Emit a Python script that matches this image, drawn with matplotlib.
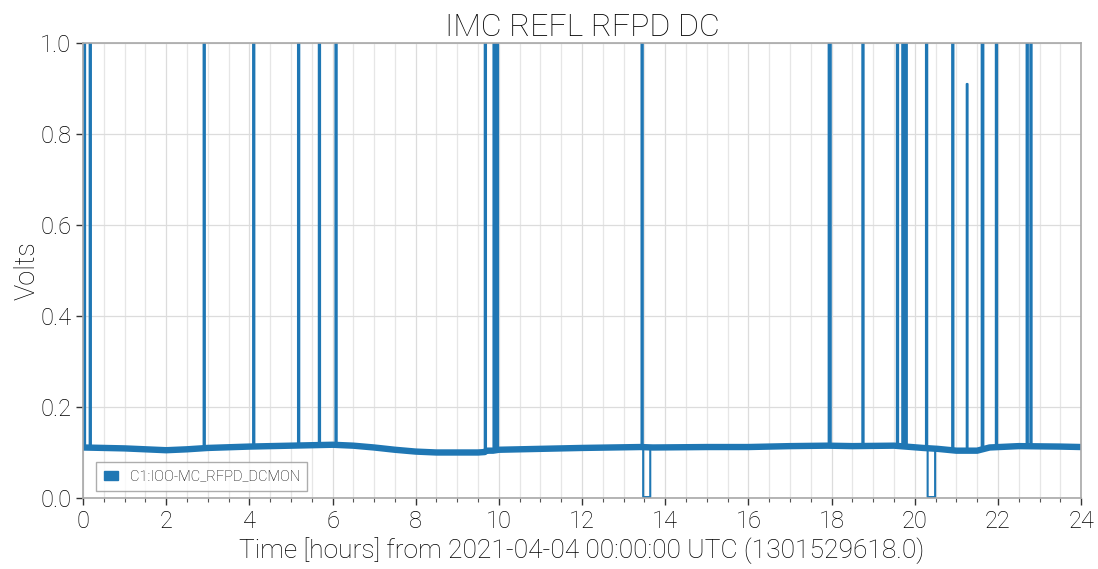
import numpy as np
import matplotlib
matplotlib.use('Agg')
import matplotlib.pyplot as plt
from matplotlib.patches import Patch

# slow baseline of the DC monitor (hours, volts)
base_hours = [0, 1, 1.5, 2, 2.5, 3, 4, 5, 6, 6.5, 7, 7.5, 8, 8.5, 9, 9.5, 9.66,
              9.7, 9.86, 10.0, 11, 12, 13.4, 13.7, 15, 16, 17, 17.9, 18.5,
              19.5, 20.2, 20.55, 21.0, 21.5, 21.8, 22.5, 23.5, 24]
base_volts = [0.111, 0.109, 0.107, 0.105, 0.107, 0.110, 0.113, 0.115, 0.117,
              0.115, 0.111, 0.106, 0.102, 0.100, 0.100, 0.100, 0.101,
              0.104, 0.104, 0.106, 0.108, 0.110, 0.112, 0.111, 0.112, 0.112,
              0.114, 0.115, 0.114, 0.115, 0.110, 0.108, 0.104, 0.104, 0.111,
              0.114, 0.113, 0.112]

# glitches: start hour, end hour, peak value (>1 means off scale)
spike_start = [0.02, 0.16, 2.90, 4.09, 5.17, 5.67, 6.07, 9.66, 9.87, 9.95,
               13.43, 17.93, 18.74, 19.57, 19.70, 19.77, 20.27, 20.90, 21.25,
               21.61, 21.95, 22.69, 22.78]
spike_end = [0.05, 0.19, 2.93, 4.12, 5.20, 5.70, 6.10, 9.69, 9.90, 9.98,
             13.46, 17.98, 18.77, 19.60, 19.74, 19.81, 20.30, 20.93, 21.27,
             21.65, 21.98, 22.72, 22.81]
spike_peak = [1.05, 1.05, 1.05, 1.05, 1.05, 1.05, 1.05, 1.05, 1.05, 1.05,
              1.05, 1.05, 1.05, 1.05, 1.05, 1.05, 1.05, 1.05, 0.91,
              1.05, 1.05, 1.05, 1.05]

# drop-outs to (almost) zero: start hour, end hour, level
dip_start = [13.47, 20.31]
dip_end = [13.64, 20.49]
dip_level = [0.002, 0.002]

channel = 'C1:IOO-MC_RFPD_DCMON'

plt.rcParams['font.family'] = ['Roboto', 'DejaVu Sans']
plt.rcParams['font.weight'] = 'light'

# assemble the trace
events = [(s, e, p) for s, e, p in zip(spike_start, spike_end, spike_peak)]
events += [(s, e, l) for s, e, l in zip(dip_start, dip_end, dip_level)]
events.sort()

t = [base_hours[0]]
v = [base_volts[0]]
for s, e, p in events:
    for bh, bv in zip(base_hours, base_volts):
        if t[-1] < bh < s:
            t.append(bh)
            v.append(bv)
    bs = np.interp(s, base_hours, base_volts)
    be = np.interp(e, base_hours, base_volts)
    t += [s, s, e, e]
    v += [bs, p, p, be]
for bh, bv in zip(base_hours, base_volts):
    if bh > t[-1]:
        t.append(bh)
        v.append(bv)

fig = plt.figure(figsize=(10.98, 5.69), dpi=100)
ax = fig.add_axes([0.0756, 0.1248, 0.909, 0.7996])

col = '#1f77b4'
ax.plot(base_hours, base_volts, color=col, linewidth=4.6, solid_capstyle='butt')
ax.plot(t, v, color=col, linewidth=1.5)

ax.set_xlim(0, 24)
ax.set_ylim(0, 1)
ax.set_xticks(np.arange(0, 25, 2))
ax.set_xticks(np.arange(0, 24.01, 0.5), minor=True)
ax.set_yticks(np.arange(0, 1.01, 0.2))
ax.set_yticklabels(['%.1f' % y for y in np.arange(0, 1.01, 0.2)])

ax.grid(which='major', color='#dcdcdc', linewidth=0.9)
ax.xaxis.grid(which='minor', color='#e6e6e6', linewidth=0.9)
ax.set_axisbelow(True)

for s in ax.spines.values():
    s.set_color('#a8a8a8')
    s.set_linewidth(1.2)

ax.tick_params(which='major', direction='out', length=5, width=1,
               color='#333333', labelsize=17, labelcolor='black')
ax.tick_params(which='minor', direction='out', length=3, width=0.8,
               color='#555555')

ax.set_title('IMC REFL RFPD DC', fontsize=23, fontweight='light', pad=5)
ax.set_xlabel('Time [hours] from 2021-04-04 00:00:00 UTC (1301529618.0)',
              fontsize=19, fontweight='light', labelpad=3)
ax.set_ylabel('Volts', fontsize=19.5, fontweight='light', labelpad=0)

leg = ax.legend(handles=[Patch(facecolor=col, edgecolor=col, label=channel)],
                loc='lower left', fontsize=10.5, frameon=True, fancybox=False,
                handlelength=1.0, handleheight=0.6, borderpad=0.5,
                bbox_to_anchor=(0.006, 0.0))
leg.get_frame().set_edgecolor('#999999')
leg.get_frame().set_linewidth(1.0)

fig.savefig('out.png', dpi=100)
